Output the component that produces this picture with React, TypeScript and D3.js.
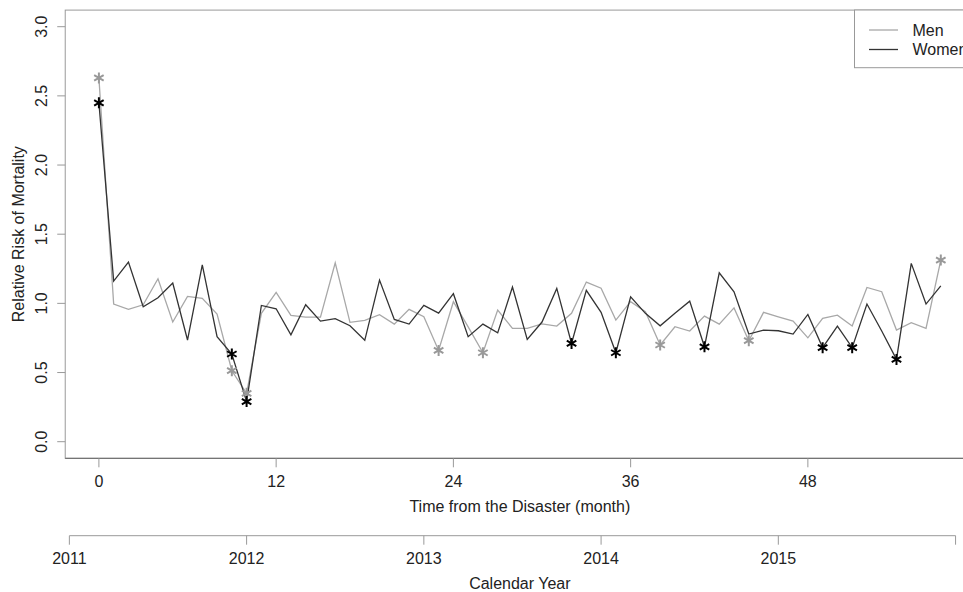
import React from "react";
import * as d3 from "d3";

// monthly relative risk, month 0 = March 2011
const months = d3.range(0, 58);
const menRR = [
  2.63, 0.995, 0.957, 0.99, 1.178, 0.865, 1.05, 1.036, 0.923, 0.513, 0.35, 0.928,
  1.079, 0.913, 0.901, 0.901, 1.293, 0.863, 0.877, 0.918, 0.85, 0.957, 0.903, 0.66,
  1.012, 0.83, 0.643, 0.952, 0.819, 0.819, 0.852, 0.836, 0.928, 1.154, 1.11, 0.879,
  1.012, 0.939, 0.699, 0.831, 0.8, 0.908, 0.85, 0.967, 0.73, 0.935, 0.903, 0.872,
  0.751, 0.891, 0.915, 0.836, 1.115, 1.084, 0.807, 0.86, 0.819, 1.313,
];
const womenRR = [
  2.45, 1.161, 1.298, 0.976, 1.041, 1.147, 0.735, 1.279, 0.759, 0.634, 0.29, 0.985,
  0.961, 0.773, 0.99, 0.872, 0.889, 0.838, 0.733, 1.168, 0.884, 0.85, 0.985, 0.93,
  1.07, 0.759, 0.85, 0.787, 1.118, 0.74, 0.865, 1.108, 0.71, 1.094, 0.935, 0.643,
  1.048, 0.928, 0.838, 0.928, 1.016, 0.686, 1.221, 1.084, 0.778, 0.807, 0.802, 0.778,
  0.92, 0.68, 0.836, 0.68, 0.995, 0.8, 0.595, 1.289, 0.995, 1.127,
];
// months flagged as significant
const menSig = [0, 9, 10, 23, 26, 38, 44, 57];
const womenSig = [0, 9, 10, 32, 35, 41, 49, 51, 54];

const monthTicks = [0, 12, 24, 36, 48];
const yTicks = [0, 0.5, 1, 1.5, 2, 2.5, 3];
const yearTickMonths = [-2, 10, 22, 34, 46, 58];
const yearLabels = ["2011", "2012", "2013", "2014", "2015", ""];

const font = "'Liberation Sans', Arial, Helvetica, sans-serif";
const menColor = "#a8a8a8";
const womenColor = "#333333";

const Star = ({ cx, cy, color }) => {
  const r = 5.5;
  const d = [90, 30, 150]
    .map((a) => {
      const rad = (a * Math.PI) / 180;
      const dx = r * Math.cos(rad);
      const dy = r * Math.sin(rad);
      return `M${cx - dx},${cy - dy}L${cx + dx},${cy + dy}`;
    })
    .join("");
  return <path d={d} stroke={color} strokeWidth={2} fill="none" />;
};

export default function App() {
  const x = d3.scaleLinear().domain([0, 57]).range([98.9, 940.8]);
  const y = d3.scaleLinear().domain([0, 3]).range([441.7, 26.7]);

  const left = x(-2.28);
  const right = x(59.28);
  const top = y(3.12);
  const bottom = y(-0.12);

  const line = d3
    .line<number>()
    .x((d, i) => x(months[i]))
    .y((d) => y(d));

  const calY = 535.7;

  return (
    <svg
      width={963}
      height={592}
      style={{ position: "absolute", left: 0, top: 0, display: "block" }}
      fontFamily={font}
      fontSize={16}
    >
      <rect x={0} y={0} width={963} height={592} fill="#fff" />

      {/* plot box */}
      <rect
        x={left}
        y={top}
        width={right - left}
        height={bottom - top}
        fill="none"
        stroke="#999"
      />
      <line x1={left} x2={right} y1={bottom} y2={bottom} stroke="#666" />

      {/* y axis */}
      {yTicks.map((t) => (
        <g key={t}>
          <line x1={left - 8} x2={left} y1={y(t)} y2={y(t)} stroke="#999" />
          <text
            transform={`translate(47,${y(t)}) rotate(-90)`}
            textAnchor="middle"
            fill="#222"
          >
            {t.toFixed(1)}
          </text>
        </g>
      ))}
      <text
        transform={`translate(23.5,${(top + bottom) / 2}) rotate(-90)`}
        textAnchor="middle"
        fill="#222"
      >
        Relative Risk of Mortality
      </text>

      {/* month axis */}
      {monthTicks.map((t) => (
        <g key={t}>
          <line x1={x(t)} x2={x(t)} y1={bottom} y2={bottom + 9} stroke="#999" />
          <text x={x(t)} y={487} textAnchor="middle" fill="#222">
            {t}
          </text>
        </g>
      ))}
      <text x={(left + right) / 2} y={512} textAnchor="middle" fill="#222">
        Time from the Disaster (month)
      </text>

      {/* calendar axis */}
      <line
        x1={x(yearTickMonths[0])}
        x2={x(yearTickMonths[yearTickMonths.length - 1])}
        y1={calY}
        y2={calY}
        stroke="#999"
      />
      {yearTickMonths.map((m, i) => (
        <g key={m}>
          <line x1={x(m)} x2={x(m)} y1={calY} y2={calY + 9} stroke="#999" />
          <text x={x(m)} y={564} textAnchor="middle" fill="#222">
            {yearLabels[i]}
          </text>
        </g>
      ))}
      <text x={(left + right) / 2} y={588.5} textAnchor="middle" fill="#222">
        Calendar Year
      </text>

      {/* series */}
      <path d={line(menRR)} fill="none" stroke={menColor} strokeWidth={1.3} />
      <path d={line(womenRR)} fill="none" stroke={womenColor} strokeWidth={1.3} />
      {menSig.map((i) => (
        <Star key={"m" + i} cx={x(months[i])} cy={y(menRR[i])} color="#999" />
      ))}
      {womenSig.map((i) => (
        <Star key={"w" + i} cx={x(months[i])} cy={y(womenRR[i])} color="#000" />
      ))}

      {/* legend */}
      <rect x={854.5} y={10} width={140} height={57.7} fill="#fff" stroke="#999" />
      <line x1={869} x2={898} y1={30} y2={30} stroke={menColor} strokeWidth={1.3} />
      <line x1={869} x2={898} y1={49.5} y2={49.5} stroke={womenColor} strokeWidth={1.3} />
      <text x={912.5} y={35.5} fill="#222">
        Men
      </text>
      <text x={912.5} y={55} fill="#222">
        Women
      </text>
    </svg>
  );
}
